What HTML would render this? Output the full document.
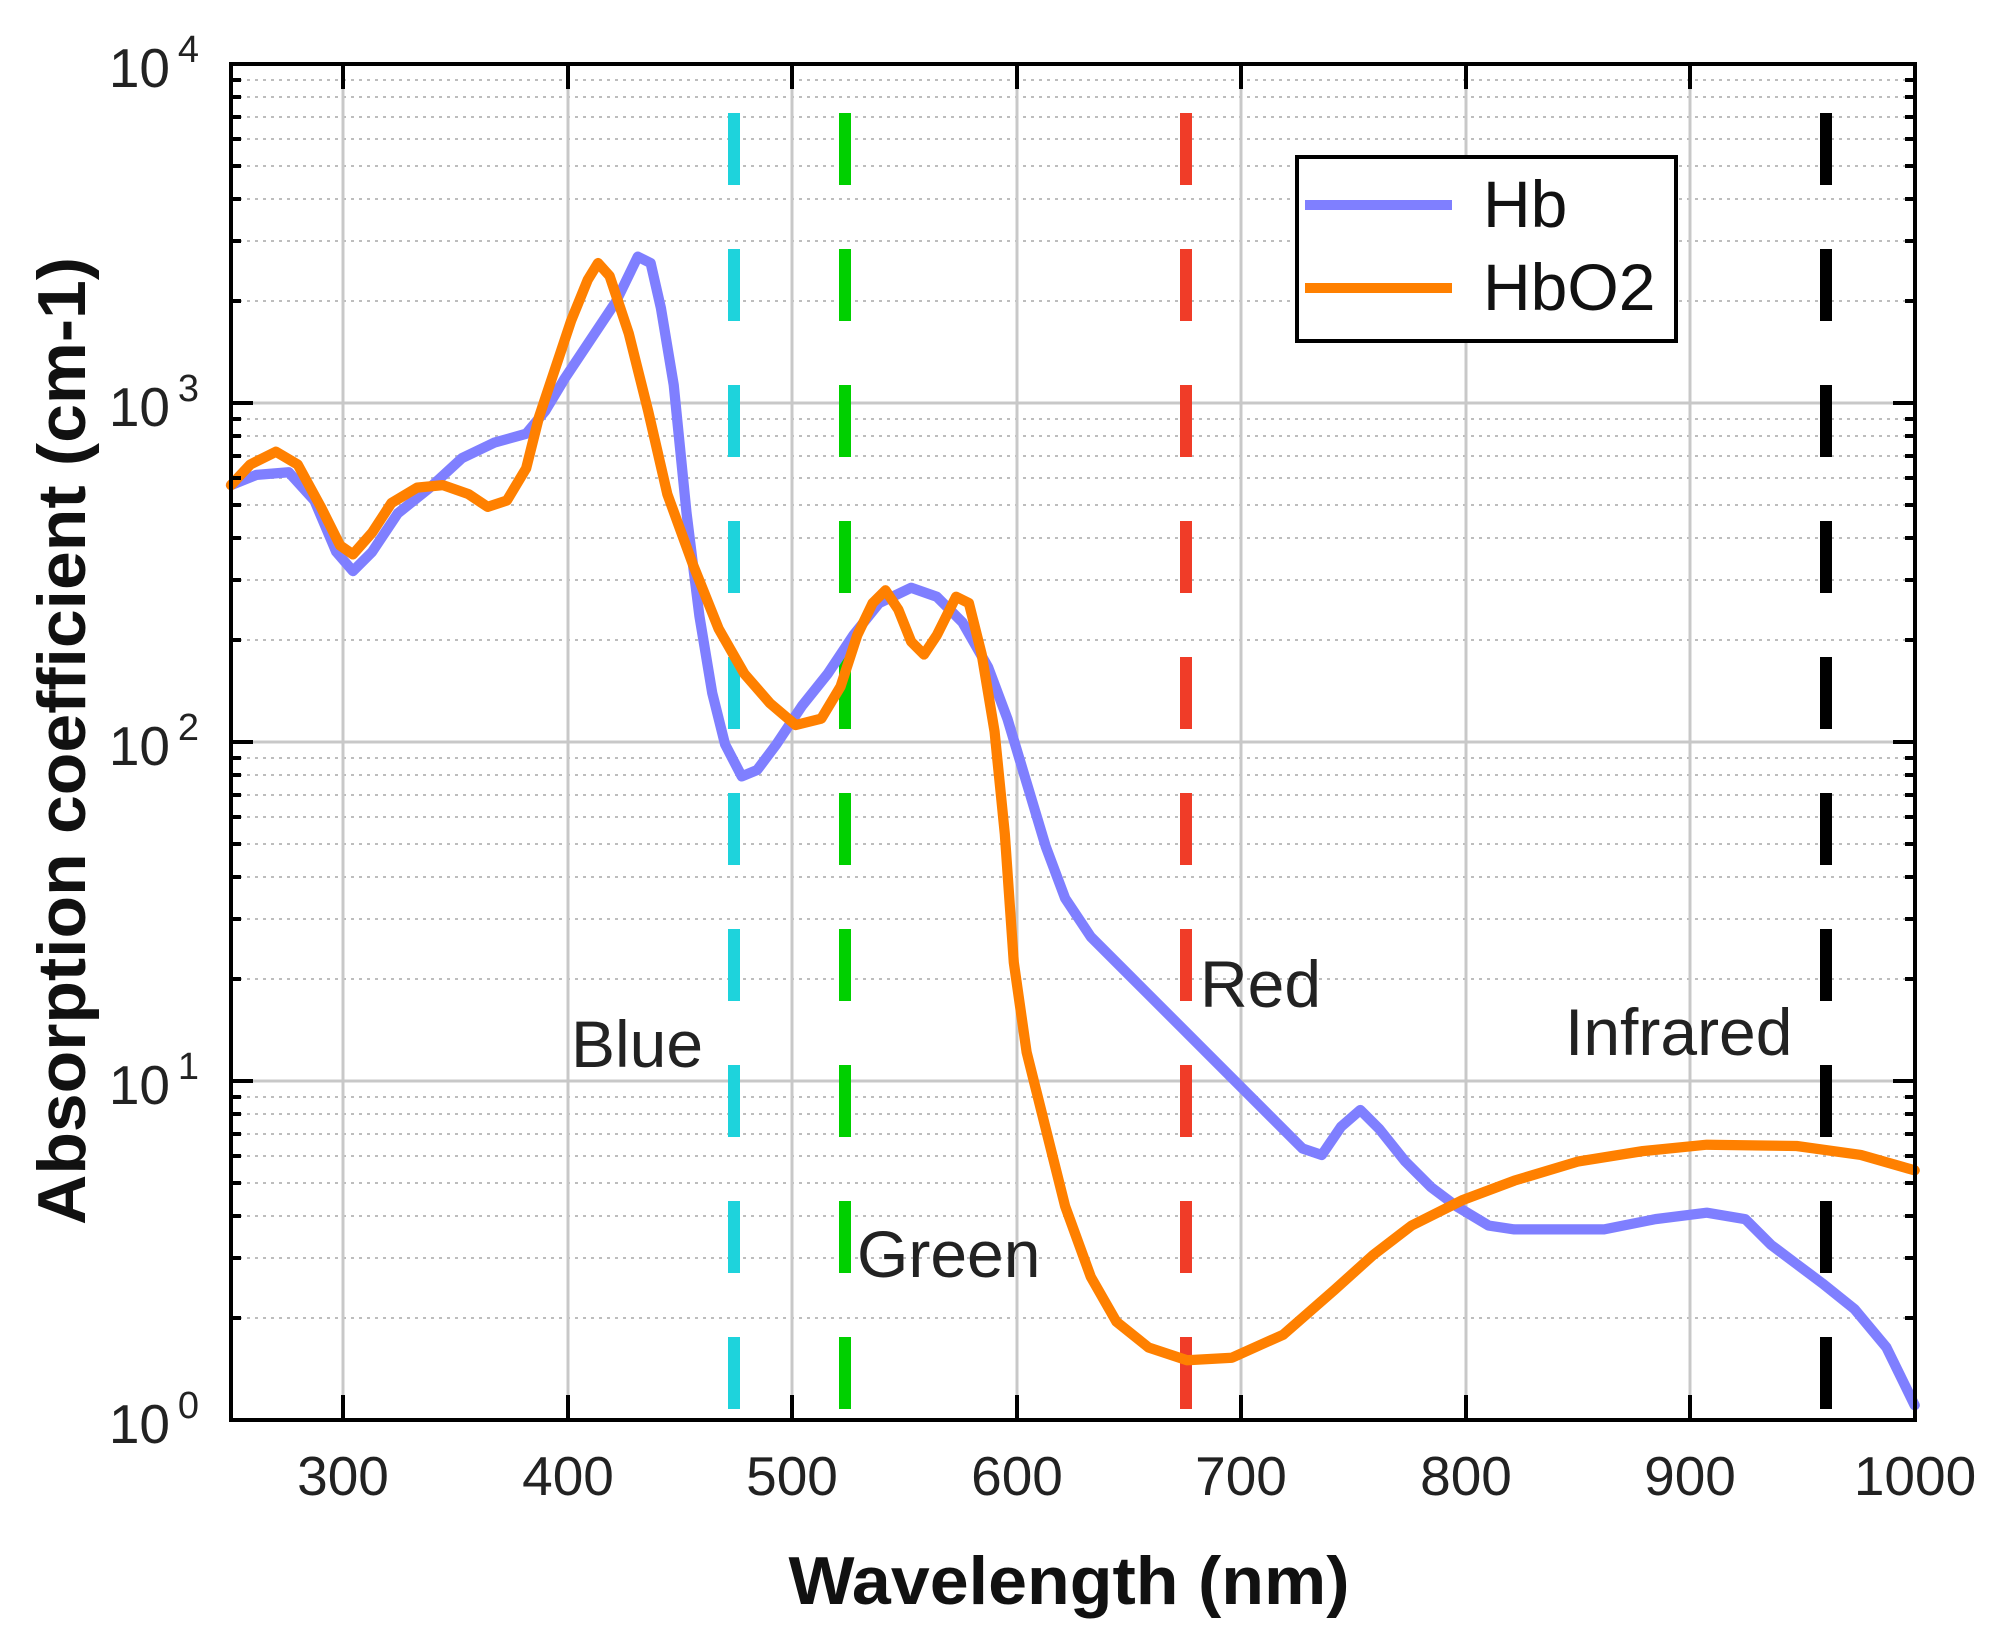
<!DOCTYPE html>
<html><head><style>body{margin:0;background:#fff}svg{display:block}</style></head><body>
<svg width="2012" height="1647" viewBox="0 0 2012 1647" xmlns="http://www.w3.org/2000/svg" font-family="Liberation Sans, Arial, sans-serif">
<rect width="2012" height="1647" fill="#fff"/>
<g stroke="#bdbdbd" stroke-width="2" stroke-dasharray="3 5">
<path d="M231 301H1915M231 241H1915M231 199H1915M231 166H1915M231 139H1915M231 117H1915M231 97H1915M231 80H1915
M231 640H1915M231 580H1915M231 538H1915M231 505H1915M231 478H1915M231 456H1915M231 436H1915M231 419H1915
M231 979H1915M231 919H1915M231 877H1915M231 844H1915M231 817H1915M231 795H1915M231 775H1915M231 758H1915
M231 1318H1915M231 1258H1915M231 1216H1915M231 1183H1915M231 1156H1915M231 1134H1915M231 1114H1915M231 1097H1915"/>
</g>
<g stroke="#c8c8c8" stroke-width="3">
<path d="M343 64V1420M568 64V1420M792 64V1420M1017 64V1420M1241 64V1420M1466 64V1420M1690 64V1420"/>
<path d="M231 403H1915M231 742H1915M231 1081H1915"/>
</g>
<g stroke-width="12" stroke-dasharray="72 64" fill="none">
<path d="M734 113V1420" stroke="#1ed3dc"/>
<path d="M845 113V1420" stroke="#00d000"/>
<path d="M1186 113V1420" stroke="#f03c28"/>
<path d="M1826 113V1420" stroke="#000"/>
</g>
<g transform="scale(1.2833)" fill="none" stroke-width="8" stroke-linejoin="round" stroke-linecap="round">
<polyline stroke="#7f7fff" points="180,378 200,370 225,368 245,390 262,430 275,445 290,430 310,400 335,380 360,357 385,345 410,338 425,320 440,295 460,265 480,235 497,200 507,205 515,240 525,300 535,400 545,480 555,540 565,580 578,605 590,600 605,580 625,550 645,525 665,495 685,470 710,458 730,465 750,485 770,520 785,560 800,610 815,660 830,700 850,730 880,760 920,800 960,840 990,870 1015,895 1030,900 1045,878 1060,865 1075,880 1095,905 1115,925 1135,940 1160,955 1180,958 1250,958 1290,950 1330,945 1360,950 1380,970 1400,985 1420,1000 1445,1020 1470,1050 1492,1095"/>
<polyline stroke="#ff8000" points="180,378 195,362 215,352 232,362 250,395 265,425 275,432 290,415 305,392 325,380 345,378 365,385 380,395 395,390 410,365 420,325 430,295 445,250 458,218 466,205 475,215 490,260 505,320 520,385 540,440 560,490 580,525 600,548 620,565 640,560 655,535 668,495 680,470 690,460 700,475 710,500 720,510 730,495 745,465 755,470 765,510 775,570 783,650 790,750 800,820 815,880 830,940 850,995 870,1030 895,1050 925,1060 960,1058 1000,1040 1040,1005 1070,978 1100,955 1140,935 1180,920 1230,905 1280,897 1330,892 1400,893 1450,900 1492,912"/>
</g>
<g stroke="#000" stroke-width="4" fill="none">
<rect x="231" y="64" width="1684" height="1356"/>
<path d="M343 64v25M568 64v25M792 64v25M1017 64v25M1241 64v25M1466 64v25M1690 64v25
M343 1420v-25M568 1420v-25M792 1420v-25M1017 1420v-25M1241 1420v-25M1466 1420v-25M1690 1420v-25
M231 403h22M231 742h22M231 1081h22M1915 403h-22M1915 742h-22M1915 1081h-22"/>
<path d="M231 301h10M231 241h10M231 199h10M231 166h10M231 139h10M231 117h10M231 97h10M231 80h10
M231 640h10M231 580h10M231 538h10M231 505h10M231 478h10M231 456h10M231 436h10M231 419h10
M231 979h10M231 919h10M231 877h10M231 844h10M231 817h10M231 795h10M231 775h10M231 758h10
M231 1318h10M231 1258h10M231 1216h10M231 1183h10M231 1156h10M231 1134h10M231 1114h10M231 1097h10
M1915 301h-10M1915 241h-10M1915 199h-10M1915 166h-10M1915 139h-10M1915 117h-10M1915 97h-10M1915 80h-10
M1915 640h-10M1915 580h-10M1915 538h-10M1915 505h-10M1915 478h-10M1915 456h-10M1915 436h-10M1915 419h-10
M1915 979h-10M1915 919h-10M1915 877h-10M1915 844h-10M1915 817h-10M1915 795h-10M1915 775h-10M1915 758h-10
M1915 1318h-10M1915 1258h-10M1915 1216h-10M1915 1183h-10M1915 1156h-10M1915 1134h-10M1915 1114h-10M1915 1097h-10"/>
</g>
<g font-size="55" fill="#222" text-anchor="middle">
<text x="343" y="1495">300</text><text x="568" y="1495">400</text><text x="792" y="1495">500</text><text x="1017" y="1495">600</text><text x="1241" y="1495">700</text><text x="1466" y="1495">800</text><text x="1690" y="1495">900</text><text x="1915" y="1495">1000</text>
</g>
<g font-size="55" fill="#222" text-anchor="end">
<text x="170" y="87">10</text><text x="199" y="62" font-size="38">4</text>
<text x="170" y="426">10</text><text x="199" y="401" font-size="38">3</text>
<text x="170" y="765">10</text><text x="199" y="740" font-size="38">2</text>
<text x="170" y="1104">10</text><text x="199" y="1079" font-size="38">1</text>
<text x="170" y="1443">10</text><text x="199" y="1418" font-size="38">0</text>
</g>
<text x="1069" y="1604" font-size="68" font-weight="bold" text-anchor="middle" textLength="561" lengthAdjust="spacingAndGlyphs" fill="#111">Wavelength (nm)</text>
<text transform="translate(85,741) rotate(-90)" font-size="68" font-weight="bold" text-anchor="middle" textLength="968" lengthAdjust="spacingAndGlyphs" fill="#111">Absorption coefficient (cm-1)</text>
<g font-size="66" fill="#222">
<text x="571" y="1067">Blue</text>
<text x="1200" y="1007">Red</text>
<text x="857" y="1277">Green</text>
<text x="1565" y="1055">Infrared</text>
</g>
<rect x="1297" y="157" width="379" height="184" fill="#fff" stroke="#000" stroke-width="4"/>
<path d="M1305 205H1452" stroke="#7f7fff" stroke-width="10"/>
<path d="M1305 288H1452" stroke="#ff8000" stroke-width="10"/>
<g font-size="66" fill="#111"><text x="1483" y="227">Hb</text><text x="1483" y="310">HbO2</text></g>
</svg>
</body></html>
